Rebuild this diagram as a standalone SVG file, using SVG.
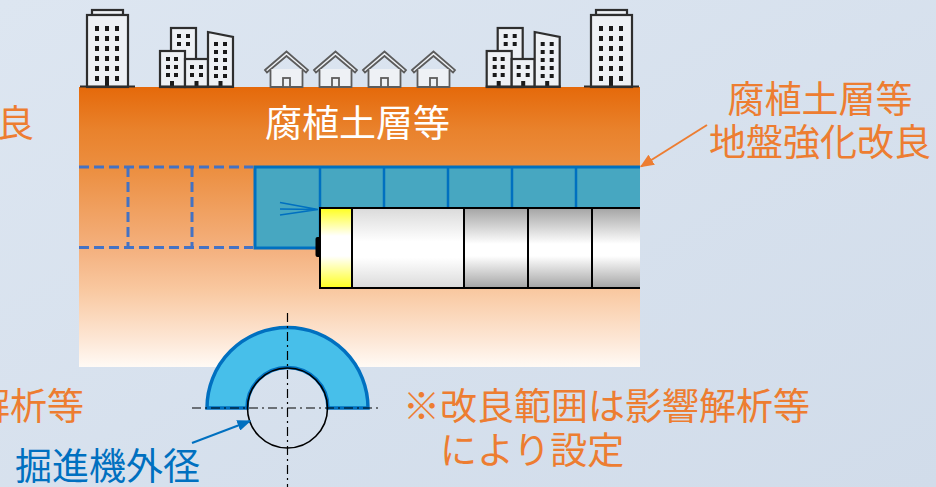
<svg xmlns="http://www.w3.org/2000/svg" width="936" height="487" viewBox="0 0 936 487">
  <style>
    .jp { font-family: "Noto Sans CJK JP", "Noto Sans", sans-serif; font-size: 37px; }
    .orange { fill: #ed7d31; }
    .blue { fill: #0070c0; }
    .white { fill: #ffffff; }
    .bld { fill: #eef1f5; stroke: #2e2e2e; stroke-width: 2.2; stroke-linejoin: miter; }
    .win { fill: #1a1a1a; }
    .house { fill: #eef1f5; stroke: #5c5c5c; stroke-width: 1.8; stroke-linejoin: miter; }
    .groundline { stroke: #2e2e2e; stroke-width: 2.2; }
    .seg { stroke: #000; stroke-width: 2; }
    .center { fill: none; stroke: #000; stroke-width: 1.2; stroke-dasharray: 9 4 2 4; }
    .dashed { fill: none; stroke: #4472c4; stroke-width: 3; stroke-dasharray: 10 5; }
  </style>
  <defs>
    <linearGradient id="bg" x1="0" y1="0" x2="1" y2="1">
      <stop offset="0" stop-color="#dde6f1"/>
      <stop offset="1" stop-color="#d1dcea"/>
    </linearGradient>
    <linearGradient id="soil" x1="0" y1="0" x2="0" y2="1">
      <stop offset="0" stop-color="#e5690a"/>
      <stop offset="0.154" stop-color="#e9822c"/>
      <stop offset="0.296" stop-color="#ec8f41"/>
      <stop offset="0.582" stop-color="#f4b17f"/>
      <stop offset="0.725" stop-color="#f9c8a0"/>
      <stop offset="0.904" stop-color="#fde7d6"/>
      <stop offset="1" stop-color="#fffaf5"/>
    </linearGradient>
    <linearGradient id="cutter" x1="0" y1="0" x2="0" y2="1">
      <stop offset="0" stop-color="#ffff1e"/>
      <stop offset="0.35" stop-color="#ffffff"/>
      <stop offset="0.6" stop-color="#ffffff"/>
      <stop offset="1" stop-color="#ffff1e"/>
    </linearGradient>
    <linearGradient id="pipeLight" x1="0" y1="0" x2="0" y2="1">
      <stop offset="0" stop-color="#dadada"/>
      <stop offset="0.42" stop-color="#ffffff"/>
      <stop offset="0.62" stop-color="#ffffff"/>
      <stop offset="1" stop-color="#dadada"/>
    </linearGradient>
    <linearGradient id="pipeDark" x1="0" y1="0" x2="0" y2="1">
      <stop offset="0" stop-color="#a4a4a4"/>
      <stop offset="0.45" stop-color="#ffffff"/>
      <stop offset="0.6" stop-color="#ffffff"/>
      <stop offset="1" stop-color="#a4a4a4"/>
    </linearGradient>
    <clipPath id="panelClip">
      <rect x="79" y="87" width="561" height="280"/>
    </clipPath>
    <marker id="arrowOrange" viewBox="0 0 10 10" refX="9" refY="5" markerWidth="14" markerHeight="12" markerUnits="userSpaceOnUse" orient="auto" preserveAspectRatio="none">
      <path d="M0,0 L10,5 L0,10 Z" fill="#ed7d31"/>
    </marker>
    <marker id="arrowBlue" viewBox="0 0 10 10" refX="9" refY="5" markerWidth="14" markerHeight="11" markerUnits="userSpaceOnUse" orient="auto" preserveAspectRatio="none">
      <path d="M0,0 L10,5 L0,10 Z" fill="#0070c0"/>
    </marker>

    <!-- tall office tower -->
    <g id="tower">
      <rect class="bld" x="92" y="10" width="31" height="5"/>
      <rect class="bld" x="87" y="15" width="41" height="72"/>
      <g class="win">
        <rect x="95" y="26" width="4" height="5"/><rect x="105" y="26" width="4" height="5"/><rect x="115" y="26" width="4" height="5"/>
        <rect x="95" y="36" width="4" height="5"/><rect x="105" y="36" width="4" height="5"/><rect x="115" y="36" width="4" height="5"/>
        <rect x="95" y="46" width="4" height="5"/><rect x="105" y="46" width="4" height="5"/><rect x="115" y="46" width="4" height="5"/>
        <rect x="95" y="56" width="4" height="5"/><rect x="105" y="56" width="4" height="5"/><rect x="115" y="56" width="4" height="5"/>
        <rect x="95" y="66" width="4" height="5"/><rect x="105" y="66" width="4" height="5"/><rect x="115" y="66" width="4" height="5"/>
        <rect x="95" y="76" width="4" height="5"/><rect x="105" y="76" width="4" height="11"/><rect x="115" y="76" width="4" height="5"/>
      </g>
      <line class="groundline" x1="80" y1="86.5" x2="135" y2="86.5"/>
    </g>

    <!-- cluster of mid-rise blocks -->
    <g id="blocks">
      <rect class="bld" x="171" y="28" width="25" height="59"/>
      <rect class="bld" x="160" y="51" width="25" height="36"/>
      <rect class="bld" x="185" y="59" width="23" height="28"/>
      <path class="bld" d="M208,32 L233,37 L233,87 L208,87 Z"/>
      <g class="win">
        <rect x="177" y="34" width="4" height="4"/><rect x="186" y="34" width="4" height="4"/>
        <rect x="177" y="42" width="4" height="4"/><rect x="186" y="42" width="4" height="4"/>
        <rect x="166" y="57" width="4" height="4"/><rect x="174" y="57" width="4" height="4"/>
        <rect x="166" y="65" width="4" height="4"/><rect x="174" y="65" width="4" height="4"/>
        <rect x="166" y="73" width="4" height="4"/><rect x="174" y="73" width="4" height="4"/>
        <rect x="170" y="81" width="4" height="6"/>
        <rect x="190" y="65" width="4" height="4"/><rect x="199" y="65" width="4" height="4"/>
        <rect x="190" y="73" width="4" height="4"/><rect x="199" y="73" width="4" height="4"/>
        <rect x="194.5" y="81" width="4" height="6"/>
        <rect x="214" y="42" width="4" height="4"/><rect x="223" y="42" width="4" height="4"/>
        <rect x="214" y="50" width="4" height="4"/><rect x="223" y="50" width="4" height="4"/>
        <rect x="214" y="58" width="4" height="4"/><rect x="223" y="58" width="4" height="4"/>
        <rect x="214" y="66" width="4" height="4"/><rect x="223" y="66" width="4" height="4"/>
        <rect x="214" y="74" width="4" height="4"/><rect x="223" y="74" width="4" height="4"/>
        <rect x="218.5" y="81" width="4" height="6"/>
      </g>
      <line class="groundline" x1="159" y1="86.5" x2="234" y2="86.5"/>
    </g>

    <!-- small house, centred on x=0 -->
    <g id="house">
      <path class="house" d="M-21.5,70 L0,51.5 L21.5,70 L19.5,72.5 L0,56 L-19.5,72.5 Z"/>
      <path class="house" d="M-16,69 V87 H16 V69" fill="none"/>
      <rect class="house" x="-3.5" y="78" width="7" height="9"/>
    </g>
  </defs>

  <!-- backdrop -->
  <rect id="background" x="0" y="0" width="936" height="487" fill="url(#bg)"/>

  <!-- ground section -->
  <g id="ground">
    <rect x="79" y="87" width="561" height="280" fill="url(#soil)"/>
    <text class="jp white" x="357.5" y="137" text-anchor="middle">腐植土層等</text>
  </g>

  <!-- surface buildings -->
  <g id="tower-left"><use href="#tower"/></g>
  <g id="blocks-left"><use href="#blocks"/></g>
  <g id="house-1"><use href="#house" transform="translate(286.5,0)"/></g>
  <g id="house-2"><use href="#house" transform="translate(335.5,0)"/></g>
  <g id="house-3"><use href="#house" transform="translate(384.5,0)"/></g>
  <g id="house-4"><use href="#house" transform="translate(433.5,0)"/></g>
  <g id="blocks-right"><use href="#blocks" transform="translate(326.7,0)"/></g>
  <g id="tower-right"><use href="#tower" transform="translate(504,0)"/></g>

  <g clip-path="url(#panelClip)">
    <!-- planned extension of the improved zone -->
    <g id="future-zone">
      <path class="dashed" d="M79,167 H253 M79,247.5 H253 M128,167 V247.5 M192,167 V247.5"/>
    </g>

    <!-- improved ground zone -->
    <g id="improved-zone">
      <rect x="255" y="167" width="390" height="81" fill="#47a7c1" stroke="#0070c0" stroke-width="3"/>
      <path d="M320,167 V248 M384,167 V248 M448,167 V248 M512,167 V248 M576,167 V248" stroke="#0070c0" stroke-width="2.5"/>
      <path d="M280,202.5 L318,209.5 M280,209 L318,209.5 M280,215 L318,209.5" fill="none" stroke="#0070c0" stroke-width="1.6"/>
    </g>

    <!-- tunnel boring machine -->
    <g id="shield-machine">
      <rect x="315.5" y="237" width="6" height="20" rx="2" fill="#000"/>
      <rect class="seg" x="320" y="208" width="32" height="80" fill="url(#cutter)"/>
      <rect class="seg" x="352" y="208" width="112" height="80" fill="url(#pipeLight)"/>
      <rect class="seg" x="464" y="208" width="64" height="80" fill="url(#pipeDark)"/>
      <rect class="seg" x="528" y="208" width="64" height="80" fill="url(#pipeDark)"/>
      <rect class="seg" x="592" y="208" width="64" height="80" fill="url(#pipeDark)"/>
    </g>
  </g>

  <!-- cross-section of the improved ring -->
  <g id="cross-section">
    <path d="M207,408 A80.5,80.5 0 0 1 368,408 L328,408 A40.5,40.5 0 0 0 247,408 Z" fill="#47bfea" stroke="#0070c0" stroke-width="3.5" stroke-linejoin="miter"/>
    <circle cx="287.5" cy="408" r="40" fill="none" stroke="#000" stroke-width="1.6"/>
    <line class="center" x1="192" y1="408" x2="382" y2="408"/>
    <line class="center" x1="287.5" y1="313" x2="287.5" y2="487"/>
  </g>

  <!-- leader arrows -->
  <g id="connectors">
    <line x1="707" y1="125" x2="641" y2="166.5" stroke="#ed7d31" stroke-width="2" marker-end="url(#arrowOrange)"/>
    <line x1="192" y1="443" x2="250" y2="421" stroke="#0070c0" stroke-width="2" marker-end="url(#arrowBlue)"/>
  </g>

  <!-- labels -->
  <g id="label-improvement">
    <text class="jp orange" x="820" y="113" text-anchor="middle">腐植土層等</text>
    <text class="jp orange" x="820" y="156" text-anchor="middle">地盤強化改良</text>
  </g>
  <g id="label-note">
    <text class="jp orange" x="403" y="420">※改良範囲は影響解析等</text>
    <text class="jp orange" x="440" y="464">により設定</text>
  </g>
  <g id="label-diameter">
    <text class="jp blue" x="15" y="480">掘進機外径</text>
  </g>
  <g id="label-left-edge">
    <text class="jp orange" x="-3" y="137">良</text>
    <text class="jp orange" x="84" y="420" text-anchor="end">解析等</text>
  </g>
</svg>
